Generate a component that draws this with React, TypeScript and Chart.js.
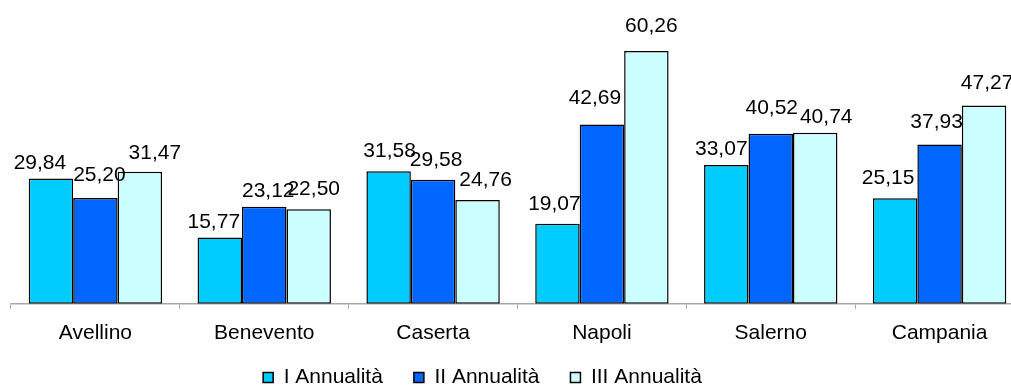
import React, { useEffect, useRef } from "react";
import { Chart, registerables } from "chart.js";

Chart.register(...registerables);

const categories = ["Avellino", "Benevento", "Caserta", "Napoli", "Salerno", "Campania"];
const seriesNames = ["I Annualità", "II Annualità", "III Annualità"];
const seriesI = [29.84, 15.77, 31.58, 19.07, 33.07, 25.15];
const seriesII = [25.2, 23.12, 29.58, 42.69, 40.52, 37.93];
const seriesIII = [31.47, 22.5, 24.76, 60.26, 40.74, 47.27];
const seriesColors = ["#00CCFF", "#0066FF", "#CCFFFF"];

// label placement nudges (style only): horizontal shift and gap above bar top
const LABEL_DX = [
  [-11, -6, 1, -3, -5, -7],
  [4, 4, 3, -7, 1, -3],
  [15, 5, 8, 5, 11, 3],
];
const LABEL_GAP = [
  [10, 10, 14, 14, 10, 14],
  [17, 10, 14, 21, 20, 17],
  [13, 14, 14, 19, 10, 16],
];

const FONT = '"Liberation Sans", Arial, sans-serif';

const fmt = (v: number) => v.toFixed(2).replace(".", ",");

const valueLabels = {
  id: "valueLabels",
  afterDatasetsDraw(chart: any) {
    const ctx = chart.ctx;
    ctx.save();
    ctx.font = `21px ${FONT}`;
    ctx.fillStyle = "#000";
    ctx.textAlign = "center";
    ctx.textBaseline = "alphabetic";
    chart.data.datasets.forEach((ds: any, di: number) => {
      const meta = chart.getDatasetMeta(di);
      meta.data.forEach((el: any, i: number) => {
        const v = ds.data[i] as number;
        ctx.fillText(fmt(v), el.x + LABEL_DX[di][i], el.y - LABEL_GAP[di][i]);
      });
    });
    ctx.restore();
  },
};

const legendShift = {
  id: "legendShift",
  afterLayout(chart: any) {
    const l = chart.legend;
    if (!l) return;
    const dx = -35;
    const dy = -22;
    l.left += dx;
    l.right += dx;
    l.top += dy;
    l.bottom += dy;
  },
};

export default function App() {
  const ref = useRef<HTMLCanvasElement | null>(null);
  useEffect(() => {
    if (!ref.current) return;
    const data = [seriesI, seriesII, seriesIII];
    const chart = new Chart(ref.current, {
      type: "bar",
      data: {
        labels: categories,
        datasets: data.map((d, i) => ({
          label: seriesNames[i],
          data: d,
          backgroundColor: seriesColors[i],
          borderColor: "#000",
          borderWidth: 1.5,
          borderSkipped: false,
          categoryPercentage: 0.79,
          barPercentage: 1,
        })),
      },
      options: {
        responsive: false,
        animation: false,
        maintainAspectRatio: false,
        layout: { padding: { left: 11, right: 6, top: 10, bottom: 0 } },
        plugins: {
          tooltip: { enabled: false },
          legend: {
            position: "bottom",
            labels: {
              boxWidth: 10,
              boxHeight: 10,
              padding: 31,
              color: "#000",
              font: { family: FONT, size: 21 },
            },
          },
        },
        scales: {
          x: {
            grid: {
              display: true,
              drawOnChartArea: false,
              drawTicks: true,
              tickLength: 5,
              color: "#a6a6a6",
              offset: true,
            },
            border: { display: true, color: "#a6a6a6", width: 1.5 },
            ticks: {
              color: "#000",
              padding: 12,
              font: { family: FONT, size: 21 },
              maxRotation: 0,
            },
          },
          y: {
            display: false,
            min: 0,
            max: 70,
          },
        },
      },
      plugins: [valueLabels, legendShift],
    });
    return () => chart.destroy();
  }, []);
  return (
    <div
      style={{
        position: "absolute",
        left: 0,
        top: 0,
        width: 1011,
        height: 387,
        overflow: "hidden",
        background: "#fff",
      }}
    >
      <canvas ref={ref} width={1030} height={420} style={{ display: "block" }} />
    </div>
  );
}
